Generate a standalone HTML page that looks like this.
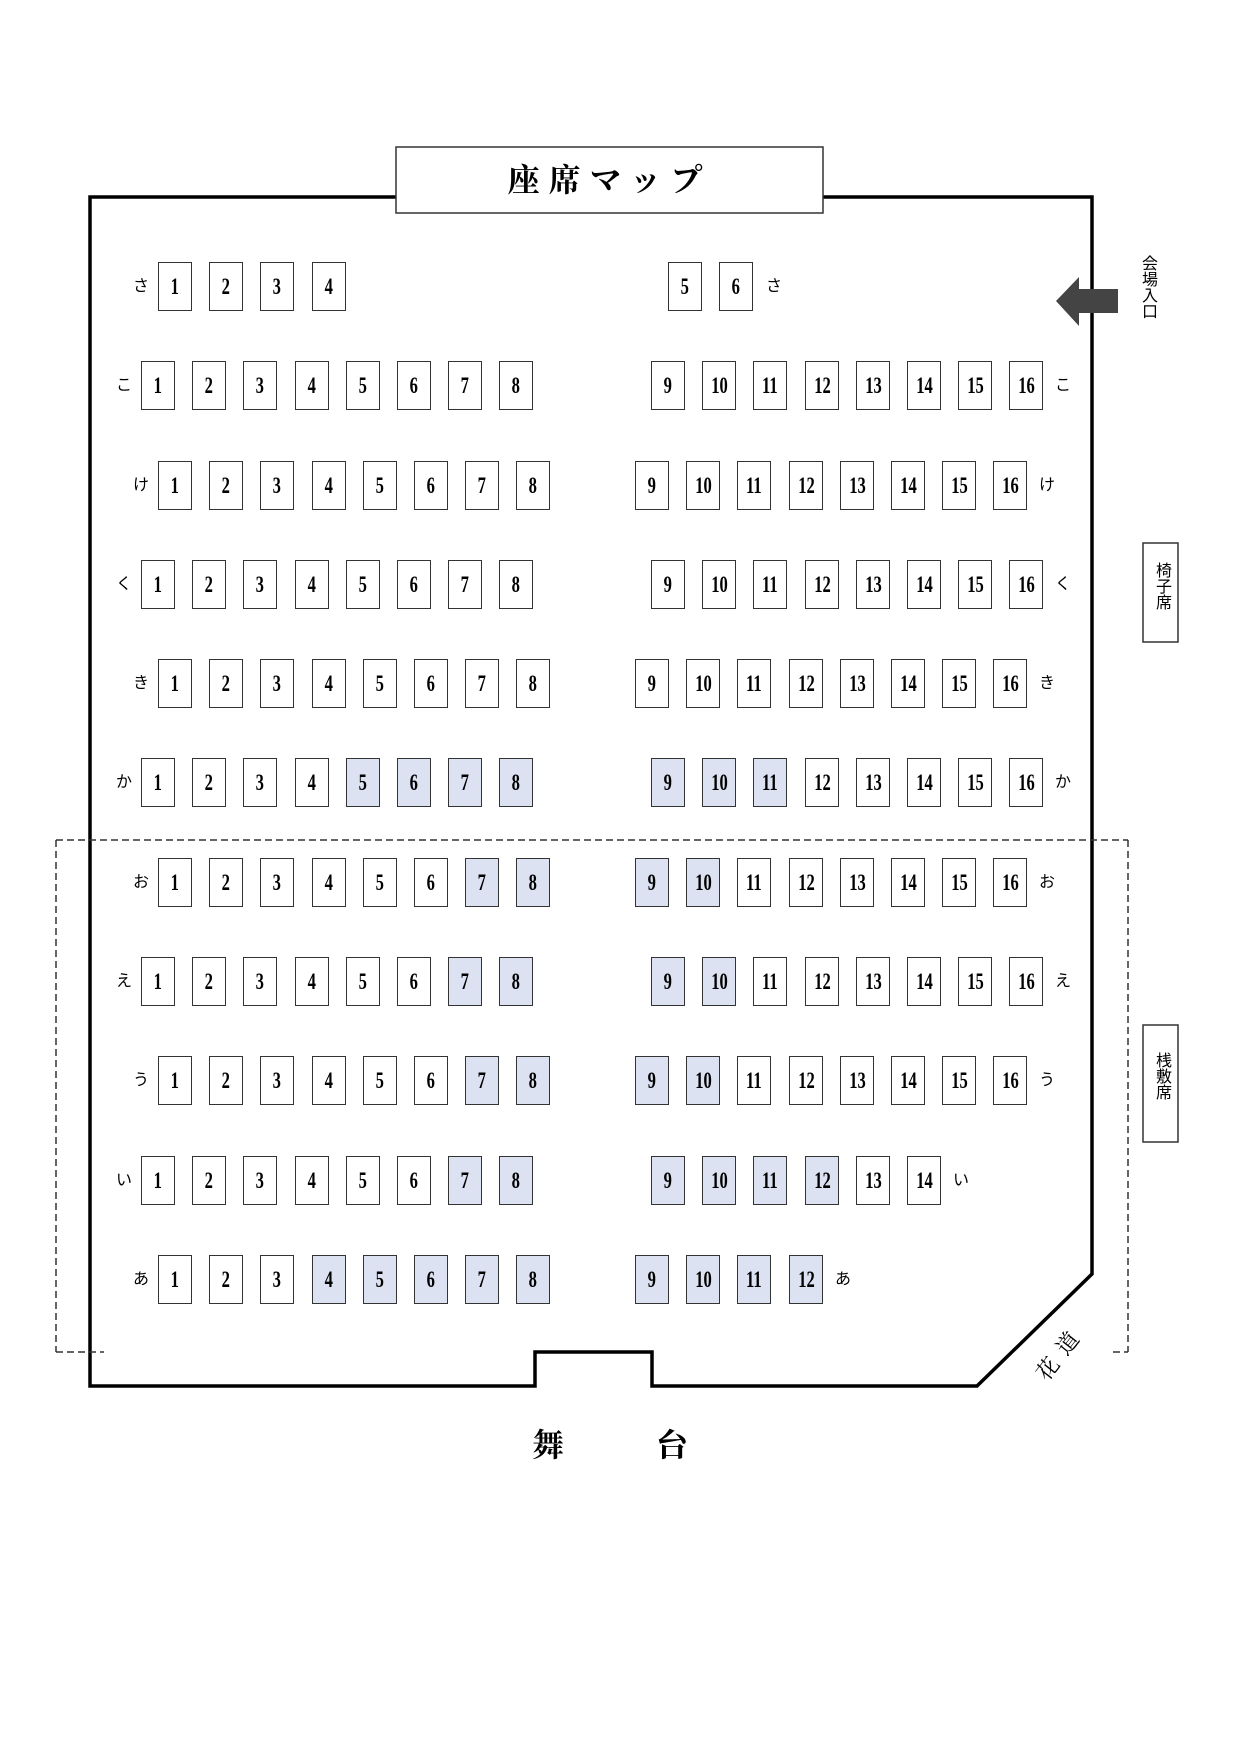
<!DOCTYPE html>
<html><head><meta charset="utf-8"><style>
body{margin:0;background:#fff;}
#p{position:relative;width:1240px;height:1754px;overflow:hidden;background:#fff;font-family:"Liberation Serif","Noto Serif CJK SC",serif;}
.s{position:absolute;width:32px;height:47px;border:1.5px solid #333;background:#fff;text-align:center;line-height:47px;font-size:23px;color:#000;font-weight:bold;}
.s span{display:inline-block;transform:scaleX(0.72);}
.h{background:#dce2f2;}
.l{position:absolute;width:24px;text-align:center;font-size:16px;line-height:20px;font-family:"Liberation Sans","Noto Sans CJK JP",sans-serif;}
.v{position:absolute;writing-mode:vertical-rl;font-family:"Liberation Sans","Noto Sans CJK JP",sans-serif;font-size:16px;}
</style></head><body><div id="p">
<svg width="1240" height="1754" style="position:absolute;left:0;top:0">
<polygon points="90,197 1092,197 1092,1274 977,1386 652,1386 652,1352 535,1352 535,1386 90,1386" fill="none" stroke="#000" stroke-width="3.5"/>
<g stroke="#333" stroke-width="1.5" stroke-dasharray="7,4" fill="none">
<line x1="56" y1="840" x2="1128" y2="840"/>
<line x1="56" y1="840" x2="56" y2="1352"/>
<line x1="1128" y1="840" x2="1128" y2="1352"/>
<line x1="56" y1="1352" x2="104" y2="1352"/>
<line x1="1113" y1="1352" x2="1128" y2="1352"/>
</g>
<rect x="396" y="147" width="427" height="66" fill="#fff" stroke="#333" stroke-width="1.5"/>
<polygon points="1056,301 1079,277 1079,289 1118,289 1118,313 1079,313 1079,326" fill="#444"/>
<rect x="1143" y="543" width="35" height="99" fill="#fff" stroke="#333" stroke-width="1.5"/>
<rect x="1143" y="1025" width="35" height="117" fill="#fff" stroke="#333" stroke-width="1.5"/>
</svg>
<div style="position:absolute;left:396px;top:147px;width:427px;height:66px;line-height:66px;text-align:center;font-size:32px;font-weight:bold;letter-spacing:9px;font-family:'Liberation Serif','Noto Serif CJK SC',serif;">座席マップ</div>
<div class="v" style="left:1138px;top:255px;font-size:16px;line-height:18px;">会場入口</div>
<div class="v" style="left:1151px;top:562px;font-size:16px;line-height:20px;">椅子席</div>
<div class="v" style="left:1151px;top:1052px;font-size:16px;line-height:20px;">桟敷席</div>
<div style="position:absolute;left:1018px;top:1336px;width:84px;text-align:center;font-size:22px;letter-spacing:10px;transform:rotate(-52deg);font-family:'Liberation Serif','Noto Serif CJK SC',serif;">花道</div>
<div style="position:absolute;left:532px;top:1420px;font-size:32px;font-weight:bold;font-family:'Liberation Serif','Noto Serif CJK SC',serif;">舞</div>
<div style="position:absolute;left:656px;top:1420px;font-size:32px;font-weight:bold;font-family:'Liberation Serif','Noto Serif CJK SC',serif;">台</div>

<div class="l" style="left:129px;top:277px">さ</div>
<div class="s" style="left:158px;top:262px"><span>1</span></div>
<div class="s" style="left:209px;top:262px"><span>2</span></div>
<div class="s" style="left:260px;top:262px"><span>3</span></div>
<div class="s" style="left:312px;top:262px"><span>4</span></div>
<div class="s" style="left:668px;top:262px"><span>5</span></div>
<div class="s" style="left:719px;top:262px"><span>6</span></div>
<div class="l" style="left:762px;top:277px">さ</div>

<div class="l" style="left:112px;top:376px">こ</div>
<div class="s" style="left:141px;top:361px"><span>1</span></div>
<div class="s" style="left:192px;top:361px"><span>2</span></div>
<div class="s" style="left:243px;top:361px"><span>3</span></div>
<div class="s" style="left:295px;top:361px"><span>4</span></div>
<div class="s" style="left:346px;top:361px"><span>5</span></div>
<div class="s" style="left:397px;top:361px"><span>6</span></div>
<div class="s" style="left:448px;top:361px"><span>7</span></div>
<div class="s" style="left:499px;top:361px"><span>8</span></div>
<div class="s" style="left:651px;top:361px"><span>9</span></div>
<div class="s" style="left:702px;top:361px"><span>10</span></div>
<div class="s" style="left:753px;top:361px"><span>11</span></div>
<div class="s" style="left:805px;top:361px"><span>12</span></div>
<div class="s" style="left:856px;top:361px"><span>13</span></div>
<div class="s" style="left:907px;top:361px"><span>14</span></div>
<div class="s" style="left:958px;top:361px"><span>15</span></div>
<div class="s" style="left:1009px;top:361px"><span>16</span></div>
<div class="l" style="left:1051px;top:376px">こ</div>

<div class="l" style="left:129px;top:476px">け</div>
<div class="s" style="left:158px;top:461px"><span>1</span></div>
<div class="s" style="left:209px;top:461px"><span>2</span></div>
<div class="s" style="left:260px;top:461px"><span>3</span></div>
<div class="s" style="left:312px;top:461px"><span>4</span></div>
<div class="s" style="left:363px;top:461px"><span>5</span></div>
<div class="s" style="left:414px;top:461px"><span>6</span></div>
<div class="s" style="left:465px;top:461px"><span>7</span></div>
<div class="s" style="left:516px;top:461px"><span>8</span></div>
<div class="s" style="left:635px;top:461px"><span>9</span></div>
<div class="s" style="left:686px;top:461px"><span>10</span></div>
<div class="s" style="left:737px;top:461px"><span>11</span></div>
<div class="s" style="left:789px;top:461px"><span>12</span></div>
<div class="s" style="left:840px;top:461px"><span>13</span></div>
<div class="s" style="left:891px;top:461px"><span>14</span></div>
<div class="s" style="left:942px;top:461px"><span>15</span></div>
<div class="s" style="left:993px;top:461px"><span>16</span></div>
<div class="l" style="left:1035px;top:476px">け</div>

<div class="l" style="left:112px;top:575px">く</div>
<div class="s" style="left:141px;top:560px"><span>1</span></div>
<div class="s" style="left:192px;top:560px"><span>2</span></div>
<div class="s" style="left:243px;top:560px"><span>3</span></div>
<div class="s" style="left:295px;top:560px"><span>4</span></div>
<div class="s" style="left:346px;top:560px"><span>5</span></div>
<div class="s" style="left:397px;top:560px"><span>6</span></div>
<div class="s" style="left:448px;top:560px"><span>7</span></div>
<div class="s" style="left:499px;top:560px"><span>8</span></div>
<div class="s" style="left:651px;top:560px"><span>9</span></div>
<div class="s" style="left:702px;top:560px"><span>10</span></div>
<div class="s" style="left:753px;top:560px"><span>11</span></div>
<div class="s" style="left:805px;top:560px"><span>12</span></div>
<div class="s" style="left:856px;top:560px"><span>13</span></div>
<div class="s" style="left:907px;top:560px"><span>14</span></div>
<div class="s" style="left:958px;top:560px"><span>15</span></div>
<div class="s" style="left:1009px;top:560px"><span>16</span></div>
<div class="l" style="left:1051px;top:575px">く</div>

<div class="l" style="left:129px;top:674px">き</div>
<div class="s" style="left:158px;top:659px"><span>1</span></div>
<div class="s" style="left:209px;top:659px"><span>2</span></div>
<div class="s" style="left:260px;top:659px"><span>3</span></div>
<div class="s" style="left:312px;top:659px"><span>4</span></div>
<div class="s" style="left:363px;top:659px"><span>5</span></div>
<div class="s" style="left:414px;top:659px"><span>6</span></div>
<div class="s" style="left:465px;top:659px"><span>7</span></div>
<div class="s" style="left:516px;top:659px"><span>8</span></div>
<div class="s" style="left:635px;top:659px"><span>9</span></div>
<div class="s" style="left:686px;top:659px"><span>10</span></div>
<div class="s" style="left:737px;top:659px"><span>11</span></div>
<div class="s" style="left:789px;top:659px"><span>12</span></div>
<div class="s" style="left:840px;top:659px"><span>13</span></div>
<div class="s" style="left:891px;top:659px"><span>14</span></div>
<div class="s" style="left:942px;top:659px"><span>15</span></div>
<div class="s" style="left:993px;top:659px"><span>16</span></div>
<div class="l" style="left:1035px;top:674px">き</div>

<div class="l" style="left:112px;top:773px">か</div>
<div class="s" style="left:141px;top:758px"><span>1</span></div>
<div class="s" style="left:192px;top:758px"><span>2</span></div>
<div class="s" style="left:243px;top:758px"><span>3</span></div>
<div class="s" style="left:295px;top:758px"><span>4</span></div>
<div class="s h" style="left:346px;top:758px"><span>5</span></div>
<div class="s h" style="left:397px;top:758px"><span>6</span></div>
<div class="s h" style="left:448px;top:758px"><span>7</span></div>
<div class="s h" style="left:499px;top:758px"><span>8</span></div>
<div class="s h" style="left:651px;top:758px"><span>9</span></div>
<div class="s h" style="left:702px;top:758px"><span>10</span></div>
<div class="s h" style="left:753px;top:758px"><span>11</span></div>
<div class="s" style="left:805px;top:758px"><span>12</span></div>
<div class="s" style="left:856px;top:758px"><span>13</span></div>
<div class="s" style="left:907px;top:758px"><span>14</span></div>
<div class="s" style="left:958px;top:758px"><span>15</span></div>
<div class="s" style="left:1009px;top:758px"><span>16</span></div>
<div class="l" style="left:1051px;top:773px">か</div>

<div class="l" style="left:129px;top:873px">お</div>
<div class="s" style="left:158px;top:858px"><span>1</span></div>
<div class="s" style="left:209px;top:858px"><span>2</span></div>
<div class="s" style="left:260px;top:858px"><span>3</span></div>
<div class="s" style="left:312px;top:858px"><span>4</span></div>
<div class="s" style="left:363px;top:858px"><span>5</span></div>
<div class="s" style="left:414px;top:858px"><span>6</span></div>
<div class="s h" style="left:465px;top:858px"><span>7</span></div>
<div class="s h" style="left:516px;top:858px"><span>8</span></div>
<div class="s h" style="left:635px;top:858px"><span>9</span></div>
<div class="s h" style="left:686px;top:858px"><span>10</span></div>
<div class="s" style="left:737px;top:858px"><span>11</span></div>
<div class="s" style="left:789px;top:858px"><span>12</span></div>
<div class="s" style="left:840px;top:858px"><span>13</span></div>
<div class="s" style="left:891px;top:858px"><span>14</span></div>
<div class="s" style="left:942px;top:858px"><span>15</span></div>
<div class="s" style="left:993px;top:858px"><span>16</span></div>
<div class="l" style="left:1035px;top:873px">お</div>

<div class="l" style="left:112px;top:972px">え</div>
<div class="s" style="left:141px;top:957px"><span>1</span></div>
<div class="s" style="left:192px;top:957px"><span>2</span></div>
<div class="s" style="left:243px;top:957px"><span>3</span></div>
<div class="s" style="left:295px;top:957px"><span>4</span></div>
<div class="s" style="left:346px;top:957px"><span>5</span></div>
<div class="s" style="left:397px;top:957px"><span>6</span></div>
<div class="s h" style="left:448px;top:957px"><span>7</span></div>
<div class="s h" style="left:499px;top:957px"><span>8</span></div>
<div class="s h" style="left:651px;top:957px"><span>9</span></div>
<div class="s h" style="left:702px;top:957px"><span>10</span></div>
<div class="s" style="left:753px;top:957px"><span>11</span></div>
<div class="s" style="left:805px;top:957px"><span>12</span></div>
<div class="s" style="left:856px;top:957px"><span>13</span></div>
<div class="s" style="left:907px;top:957px"><span>14</span></div>
<div class="s" style="left:958px;top:957px"><span>15</span></div>
<div class="s" style="left:1009px;top:957px"><span>16</span></div>
<div class="l" style="left:1051px;top:972px">え</div>

<div class="l" style="left:129px;top:1071px">う</div>
<div class="s" style="left:158px;top:1056px"><span>1</span></div>
<div class="s" style="left:209px;top:1056px"><span>2</span></div>
<div class="s" style="left:260px;top:1056px"><span>3</span></div>
<div class="s" style="left:312px;top:1056px"><span>4</span></div>
<div class="s" style="left:363px;top:1056px"><span>5</span></div>
<div class="s" style="left:414px;top:1056px"><span>6</span></div>
<div class="s h" style="left:465px;top:1056px"><span>7</span></div>
<div class="s h" style="left:516px;top:1056px"><span>8</span></div>
<div class="s h" style="left:635px;top:1056px"><span>9</span></div>
<div class="s h" style="left:686px;top:1056px"><span>10</span></div>
<div class="s" style="left:737px;top:1056px"><span>11</span></div>
<div class="s" style="left:789px;top:1056px"><span>12</span></div>
<div class="s" style="left:840px;top:1056px"><span>13</span></div>
<div class="s" style="left:891px;top:1056px"><span>14</span></div>
<div class="s" style="left:942px;top:1056px"><span>15</span></div>
<div class="s" style="left:993px;top:1056px"><span>16</span></div>
<div class="l" style="left:1035px;top:1071px">う</div>

<div class="l" style="left:112px;top:1171px">い</div>
<div class="s" style="left:141px;top:1156px"><span>1</span></div>
<div class="s" style="left:192px;top:1156px"><span>2</span></div>
<div class="s" style="left:243px;top:1156px"><span>3</span></div>
<div class="s" style="left:295px;top:1156px"><span>4</span></div>
<div class="s" style="left:346px;top:1156px"><span>5</span></div>
<div class="s" style="left:397px;top:1156px"><span>6</span></div>
<div class="s h" style="left:448px;top:1156px"><span>7</span></div>
<div class="s h" style="left:499px;top:1156px"><span>8</span></div>
<div class="s h" style="left:651px;top:1156px"><span>9</span></div>
<div class="s h" style="left:702px;top:1156px"><span>10</span></div>
<div class="s h" style="left:753px;top:1156px"><span>11</span></div>
<div class="s h" style="left:805px;top:1156px"><span>12</span></div>
<div class="s" style="left:856px;top:1156px"><span>13</span></div>
<div class="s" style="left:907px;top:1156px"><span>14</span></div>
<div class="l" style="left:949px;top:1171px">い</div>

<div class="l" style="left:129px;top:1270px">あ</div>
<div class="s" style="left:158px;top:1255px"><span>1</span></div>
<div class="s" style="left:209px;top:1255px"><span>2</span></div>
<div class="s" style="left:260px;top:1255px"><span>3</span></div>
<div class="s h" style="left:312px;top:1255px"><span>4</span></div>
<div class="s h" style="left:363px;top:1255px"><span>5</span></div>
<div class="s h" style="left:414px;top:1255px"><span>6</span></div>
<div class="s h" style="left:465px;top:1255px"><span>7</span></div>
<div class="s h" style="left:516px;top:1255px"><span>8</span></div>
<div class="s h" style="left:635px;top:1255px"><span>9</span></div>
<div class="s h" style="left:686px;top:1255px"><span>10</span></div>
<div class="s h" style="left:737px;top:1255px"><span>11</span></div>
<div class="s h" style="left:789px;top:1255px"><span>12</span></div>
<div class="l" style="left:831px;top:1270px">あ</div>
</div></body></html>
